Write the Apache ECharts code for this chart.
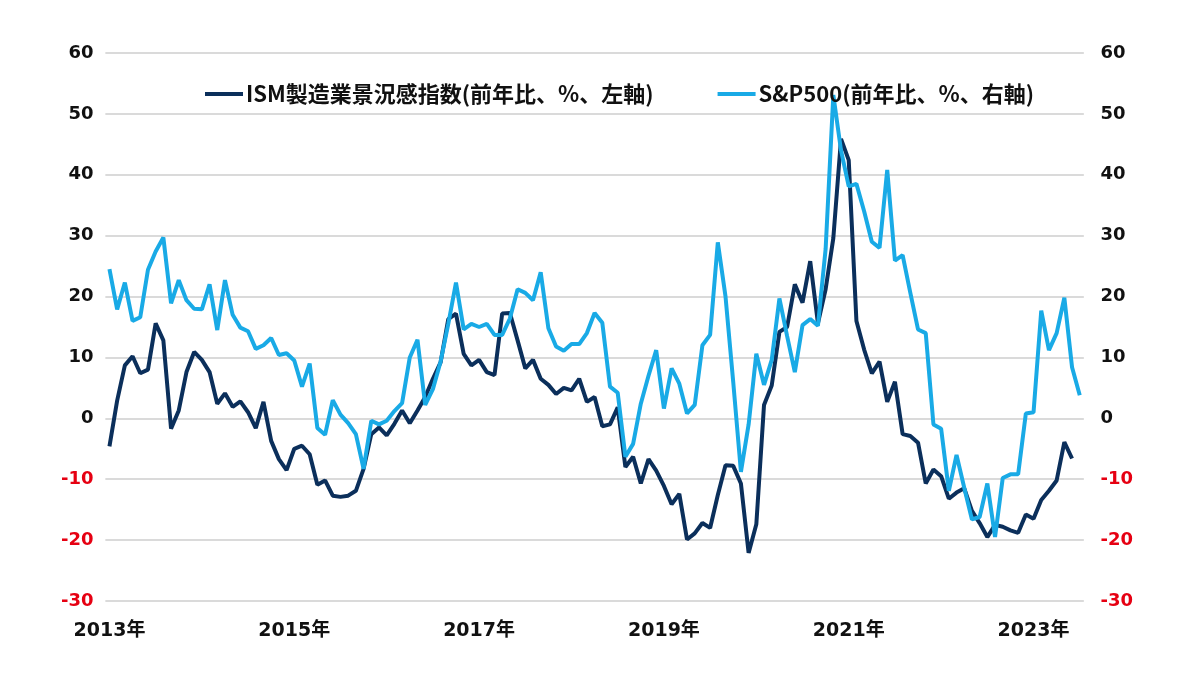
<!DOCTYPE html>
<html>
<head>
<meta charset="utf-8">
<title>ISM製造業景況感指数とS&P500</title>
<script src="https://cdn.jsdelivr.net/npm/echarts@6/dist/echarts.min.js"></script>
<style>
    html, body { margin: 0; padding: 0; background: #fff; }
    #mymain { width: 1200px; height: 675px; }
</style>
</head>
<body>
<div id="mymain"></div>
<script type="text/javascript">
    // 月次データ 2013年1月～
    var startYear = 2013;
    var yearLabels = ['2013年', '2015年', '2017年', '2019年', '2021年', '2023年'];

    // ISM製造業景況感指数（前年比、%） 2013/01～2023/06
    var ismData = [
        -4.6, 2.9, 8.7, 10.2, 7.4, 8.0, 15.6, 12.8, -1.7, 1.3, 7.6, 10.9,
        9.6, 7.6, 2.4, 4.1, 1.9, 2.8, 1.0, -1.6, 2.7, -3.7, -6.7, -8.5,
        -5.0, -4.5, -5.9, -10.9, -10.2, -12.7, -12.9, -12.7, -11.9, -8.3, -2.6, -1.5,
        -2.8, -0.9, 1.3, -0.8, 1.3, 3.5, 6.5, 9.2, 16.3, 17.2, 10.6, 8.7,
        9.6, 7.6, 7.1, 17.2, 17.3, 12.8, 8.2, 9.6, 6.5, 5.5, 4.0, 5.0,
        4.6, 6.5, 2.7, 3.5, -1.3, -1.0, 1.8, -8.0, -6.3, -10.7, -6.7, -8.6,
        -11.1, -14.1, -12.4, -19.9, -18.9, -17.2, -18.0, -12.6, -7.7, -7.8, -10.7, -22.1,
        -17.4, 2.2, 5.4, 14.2, 15.0, 22.0, 19.0, 25.8, 15.6, 21.2, 29.6, 45.9,
        42.4, 16.0, 11.3, 7.4, 9.3, 2.7, 6.0, -2.6, -2.9, -4.0, -10.7, -8.4,
        -9.5, -13.2, -12.2, -11.5, -15.2, -17.2, -19.5, -17.5, -17.8, -18.4, -18.8, -15.8,
        -16.5, -13.4, -11.9, -10.2, -3.9, -6.6
    ];

    // S&P500（前年比、%） 2013/01～2023/07
    var spData = [
        24.5, 17.9, 22.3, 16.0, 16.6, 24.4, 27.4, 29.7, 18.9, 22.7, 19.4, 18.0,
        17.9, 22.0, 14.5, 22.7, 17.0, 14.9, 14.3, 11.4, 12.0, 13.2, 10.4, 10.7,
        9.5, 5.2, 9.0, -1.6, -2.7, 3.0, 0.6, -0.8, -2.6, -8.3, -0.4, -1.0,
        -0.4, 1.2, 2.5, 10.0, 12.9, 2.2, 4.8, 9.3, 15.5, 22.3, 14.6, 15.5,
        15.0, 15.5, 13.7, 13.7, 16.4, 21.2, 20.6, 19.4, 24.0, 14.8, 11.8, 11.1,
        12.2, 12.2, 14.0, 17.3, 15.7, 5.2, 4.2, -6.3, -4.2, 2.4, 7.0, 11.2,
        1.6, 8.2, 5.7, 0.8, 2.2, 12.0, 13.7, 28.9, 20.0, 6.0, -8.8, -1.0,
        10.6, 5.5, 9.6, 19.7, 13.5, 7.6, 15.3, 16.3, 15.2, 27.8, 53.1, 44.0,
        38.1, 38.5, 34.0, 29.0, 28.0, 40.8, 25.9, 26.8, 20.6, 14.6, 14.0, -1.0,
        -1.7, -11.9, -6.0, -11.4, -16.6, -16.2, -10.7, -19.5, -9.8, -9.2, -9.2, 0.8,
        1.0, 17.7, 11.2, 14.0, 19.8, 8.4, 3.8
    ];

    // 月のカテゴリ
    var months = [];
    for (var i = 0; i < spData.length; i++) {
        var y = startYear + Math.floor(i / 12);
        var m = i % 12 + 1;
        months.push(y + '-' + (m < 10 ? '0' + m : m));
    }

    var numFont = "'DejaVu Sans', 'Noto Sans CJK JP', sans-serif";
    var jpFont = "'Noto Sans CJK JP', sans-serif";

    function labelColor(value) {
        return value < 0 ? '#e60012' : '#111111';
    }

    var yAxisCommon = {
        type: 'value',
        min: -30,
        max: 60,
        interval: 10,
        axisLine: { show: false },
        axisTick: { show: false },
        splitLine: { lineStyle: { color: '#dadada', width: 2 } }
    };

    var myChart = echarts.init(document.getElementById('mymain'));

    var option = {
        backgroundColor: '#ffffff',
        animation: false,
        grid: {
            left: 105.6,
            right: 116.4,
            top: 53,
            bottom: 74
        },
        legend: {
            left: 200,
            top: 78,
            itemWidth: 38,
            itemHeight: 4,
            itemGap: 64,
            icon: 'rect',
            textStyle: {
                fontFamily: jpFont,
                fontSize: 22,
                fontWeight: 'bold',
                color: '#111111',
                padding: [0, 0, 0, -2]
            },
            data: ['ISM製造業景況感指数(前年比、%、左軸)', 'S&P500(前年比、%、右軸)']
        },
        xAxis: {
            type: 'category',
            boundaryGap: true,
            data: months,
            axisLine: { show: false },
            axisTick: { show: false },
            axisLabel: {
                margin: 21,
                fontFamily: numFont,
                fontSize: 19,
                fontWeight: 'bold',
                color: '#111111',
                interval: function (index) {
                    return index % 24 === 0;
                },
                formatter: function (value, index) {
                    return yearLabels[Math.floor(index / 24)];
                }
            }
        },
        yAxis: [
            echarts.util.merge({
                position: 'left',
                axisLabel: {
                    margin: 12,
                    fontFamily: numFont,
                    fontSize: 18,
                    fontWeight: 'bold',
                    color: labelColor
                }
            }, yAxisCommon),
            echarts.util.merge({
                position: 'right',
                axisLabel: {
                    margin: 17,
                    fontFamily: numFont,
                    fontSize: 18,
                    fontWeight: 'bold',
                    color: labelColor
                }
            }, yAxisCommon)
        ],
        series: [
            {
                name: 'ISM製造業景況感指数(前年比、%、左軸)',
                type: 'line',
                yAxisIndex: 0,
                symbol: 'none',
                color: '#0b2f5b',
                lineStyle: { width: 4, color: '#0b2f5b' },
                data: ismData
            },
            {
                name: 'S&P500(前年比、%、右軸)',
                type: 'line',
                yAxisIndex: 1,
                symbol: 'none',
                color: '#19aae6',
                lineStyle: { width: 4, color: '#19aae6' },
                data: spData
            }
        ]
    };

    myChart.setOption(option);
</script>
</body>
</html>
